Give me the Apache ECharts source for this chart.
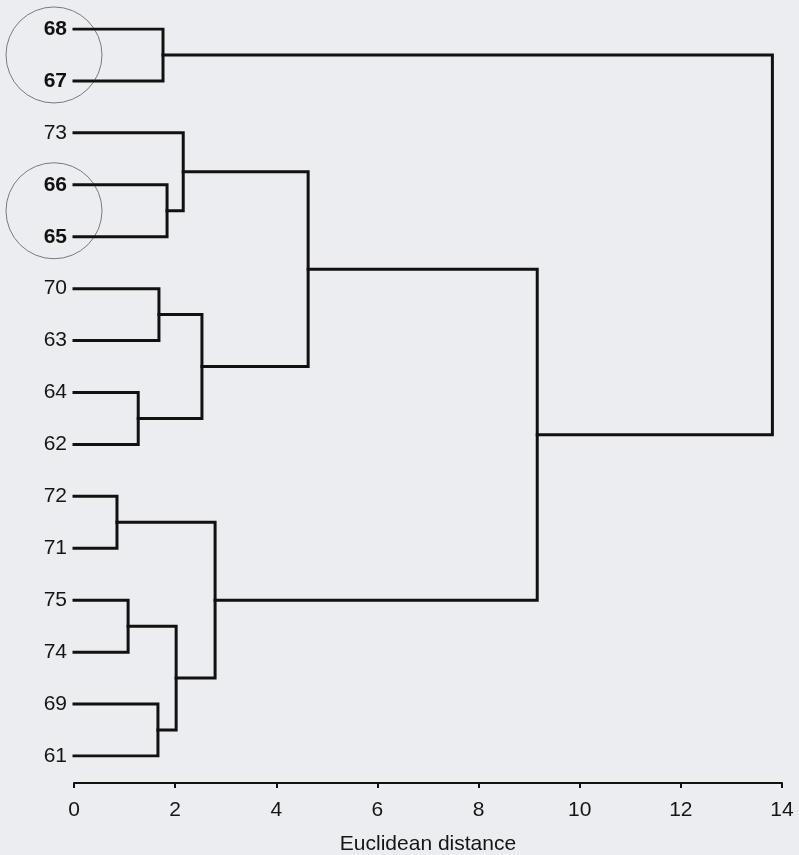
<!DOCTYPE html>
<html>
<head>
<meta charset="utf-8">
<script src="https://cdn.jsdelivr.net/npm/echarts@6/dist/echarts.min.js"></script>
<style>
html,body{margin:0;padding:0;background:#ecedf1;}
#chart{width:799px;height:855px;}
</style>
</head>
<body>
<div id="chart"></div>
<script>
// Leaves in display order (top to bottom)
const leaves = ['68','67','73','66','65','70','63','64','62','72','71','75','74','69','61'];
const boldLeaves = ['68','67','66','65'];
// Merges: children are leaf indices (0..14) or merge indices (15 + k)
const mergeLeft  = [0, 3, 2,  5, 7, 18, 17,  9, 11, 13, 23, 22, 21, 15];
const mergeRight = [1, 4, 16, 6, 8, 19, 20, 10, 12, 14, 24, 25, 26, 27];
const mergeHeight = [1.76, 1.84, 2.16, 1.68, 1.27, 2.53, 4.63, 0.85, 1.07, 1.66, 2.02, 2.79, 9.16, 13.81];
const xTicks = [0, 2, 4, 6, 8, 10, 12, 14];
const circledPairs = [[0, 1], [3, 4]];

const nodeY = leaves.map((_, i) => i);
const nodeH = leaves.map(() => 0);
const series = [];
for (let k = 0; k < mergeHeight.length; k++) {
  const a = mergeLeft[k], b = mergeRight[k], h = mergeHeight[k];
  const ya = nodeY[a], yb = nodeY[b];
  series.push({
    type: 'line',
    data: [[nodeH[a], ya], [h, ya], [h, yb], [nodeH[b], yb]],
    symbol: 'none',
    silent: true,
    animation: false,
    lineStyle: {color: '#111', width: 3, join: 'miter', cap: 'square'}
  });
  nodeY.push((ya + yb) / 2);
  nodeH.push(h);
}

const FONT = 'Liberation Sans';
const chart = echarts.init(document.getElementById('chart'));
chart.setOption({
  backgroundColor: '#ecedf1',
  animation: false,
  grid: {left: 74, right: 17, top: 29, bottom: 99, containLabel: false, outerBoundsMode: 'none'},
  xAxis: {
    type: 'value', min: xTicks[0], max: xTicks[xTicks.length - 1], interval: 2,
    position: 'bottom',
    offset: 27,
    axisLine: {show: true, onZero: false, lineStyle: {color: '#111', width: 2}},
    axisTick: {show: true, length: 5, lineStyle: {color: '#111', width: 2}},
    splitLine: {show: false},
    axisLabel: {fontFamily: FONT, fontSize: 21, color: '#151515', margin: 17},
    name: 'Euclidean distance', nameLocation: 'middle', nameGap: 51,
    nameTextStyle: {fontFamily: FONT, fontSize: 21, color: '#151515'}
  },
  yAxis: {
    type: 'value', inverse: true, min: 0, max: leaves.length - 1, interval: 1,
    axisLine: {show: false}, axisTick: {show: false}, splitLine: {show: false},
    axisLabel: {
      margin: 7,
      fontFamily: FONT, fontSize: 21, color: '#151515',
      formatter: v => {
        const name = leaves[Math.round(v)];
        return boldLeaves.includes(name) ? '{b|' + name + '}' : name;
      },
      rich: {b: {fontFamily: FONT, fontSize: 21, fontWeight: 'bold', color: '#111'}}
    }
  },
  series: series
});

// annotation circles around selected leaf pairs
const graphics = circledPairs.map(([i, j]) => {
  const p = chart.convertToPixel({gridIndex: 0}, [0, (i + j) / 2]);
  return {
    type: 'circle',
    shape: {cx: p[0] - 20, cy: p[1], r: 48},
    style: {fill: 'none', stroke: '#7a7a7a', lineWidth: 1},
    silent: true
  };
});
chart.setOption({graphic: graphics});
</script>
</body>
</html>
